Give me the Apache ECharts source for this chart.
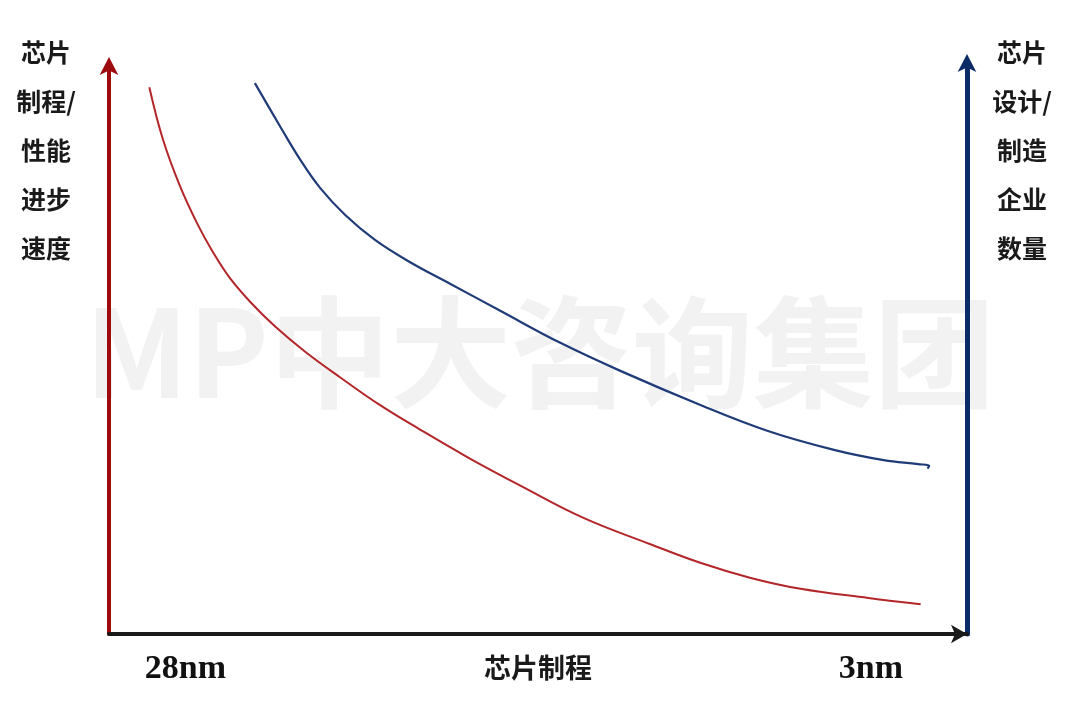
<!DOCTYPE html>
<html>
<head>
<meta charset="utf-8">
<script src="https://cdn.jsdelivr.net/npm/echarts@6/dist/echarts.min.js"></script>
<style>
  html, body { margin: 0; padding: 0; background: #ffffff; }
  #chart { width: 1080px; height: 710px; }
</style>
</head>
<body>
<div id="chart"></div>
<script>
// Values (x: 0 = 28nm side, 100 = far right; y: 0-100 relative level)
var perfCurve = [
  [4.7, 95.6], [6.3, 86.4], [8.3, 78.2], [10.3, 71.7], [12.1, 66.8], [14.1, 62.2],
  [16.5, 58.0], [19.4, 53.7], [22.9, 49.3], [27.0, 44.8], [31.6, 40.0], [36.3, 35.7],
  [41.8, 30.9], [48.0, 25.9], [55.3, 20.3], [63.1, 15.7], [69.0, 12.4], [74.8, 9.8],
  [80.6, 7.9], [88.5, 6.3], [94.6, 5.2]
];
var firmCurve = [
  [17.0, 96.3], [20.0, 88.6], [22.3, 82.9], [24.6, 78.0], [27.5, 73.3], [31.0, 68.9],
  [35.1, 65.0], [39.8, 61.2], [45.6, 56.5], [52.6, 50.9], [59.6, 46.0], [69.0, 40.0],
  [76.8, 35.5], [84.5, 32.2], [90.3, 30.4], [94.3, 29.7], [95.6, 29.4], [95.4, 28.9]
];
var tickValues = [8.9, 88.8];
var tickLabels = ['28nm', '3nm'];
var xAxisName = '芯片制程';
var leftAxisName = '芯片\n制程/\n性能\n进步\n速度';
var rightAxisName = '芯片\n设计/\n制造\n企业\n数量';
var watermark = 'MP中大咨询集团';

var chart = echarts.init(document.getElementById('chart'), null, { renderer: 'canvas' });
var cjk = '"Noto Sans CJK SC", sans-serif';

chart.setOption({
  backgroundColor: '#ffffff',
  animation: false,
  graphic: [
    {
      type: 'text', left: 'center', top: 292, z: -10, silent: true,
      style: { text: watermark, fill: '#f2f2f2', font: 'bold 121px "Noto Sans CJK SC", sans-serif' }
    },
    {
      type: 'text', x: 46, y: 28, z: 10,
      style: { text: leftAxisName, fill: '#1a1a1a', font: 'bold 25px ' + cjk, align: 'center', lineHeight: 49 }
    },
    {
      type: 'text', x: 1022, y: 28, z: 10,
      style: { text: rightAxisName, fill: '#1a1a1a', font: 'bold 25px ' + cjk, align: 'center', lineHeight: 49 }
    }
  ],
  grid: { left: 109, right: 113, top: 62, bottom: 76, containLabel: false, outerBoundsMode: 'none' },
  xAxis: {
    type: 'value', min: 0, max: 100,
    name: xAxisName, nameLocation: 'middle', nameGap: 20, nameMoveOverlap: false,
    nameTextStyle: { fontFamily: 'Noto Sans CJK SC', fontSize: 27, color: '#1a1a1a', fontWeight: 'bold' },
    axisLine: { show: true, symbol: ['none', 'arrow'], symbolSize: [14, 16], lineStyle: { color: '#1a1a1a', width: 4 } },
    axisTick: { show: false },
    splitLine: { show: false },
    axisLabel: {
      show: true, margin: 18, customValues: tickValues, hideOverlap: false,
      formatter: function (v) {
        for (var i = 0; i < tickValues.length; i++) { if (Math.abs(tickValues[i] - v) < 0.01) return tickLabels[i]; }
        return '';
      },
      fontFamily: 'Liberation Serif', fontWeight: 'bold', fontSize: 34, color: '#111111'
    }
  },
  yAxis: [
    {
      type: 'value', min: 0, max: 100, position: 'left',
      axisLine: { show: true, symbol: ['none', 'arrow'], symbolSize: [14, 18], symbolOffset: [0, 5], lineStyle: { color: '#9e0b0f', width: 4 } },
      axisTick: { show: false }, axisLabel: { show: false }, splitLine: { show: false }
    },
    {
      type: 'value', min: 0, max: 100, position: 'right',
      axisLine: { show: true, symbol: ['none', 'arrow'], symbolSize: [14, 18], symbolOffset: [0, 8], lineStyle: { color: '#0c2c68', width: 5 } },
      axisTick: { show: false }, axisLabel: { show: false }, splitLine: { show: false }
    }
  ],
  series: [
    {
      type: 'line', name: 'perf', data: perfCurve, yAxisIndex: 0, smooth: 0.4,
      showSymbol: false, symbol: 'none',
      lineStyle: { color: '#b3262a', width: 2 }
    },
    {
      type: 'line', name: 'firms', data: firmCurve, yAxisIndex: 0, smooth: 0.4,
      showSymbol: false, symbol: 'none',
      lineStyle: { color: '#1f3b78', width: 2.2 }
    }
  ]
});
</script>
</body>
</html>
